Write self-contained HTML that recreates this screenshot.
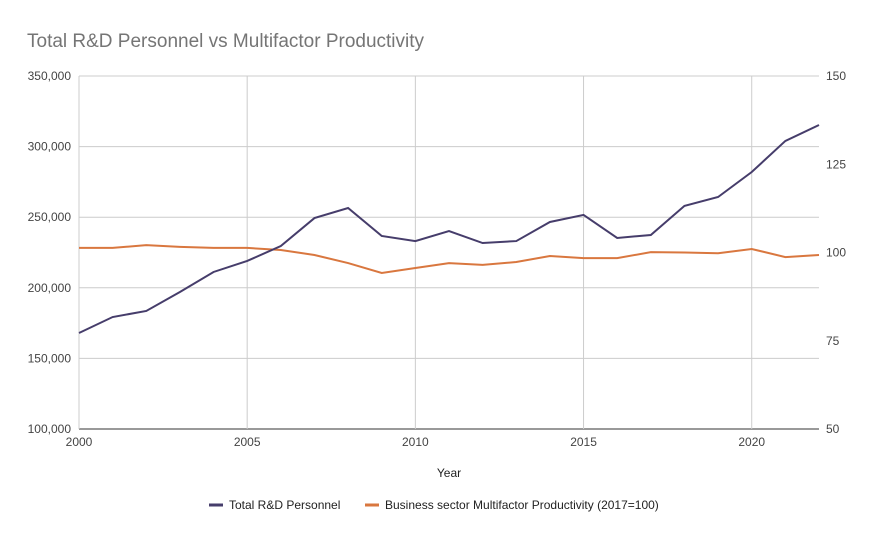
<!DOCTYPE html>
<html><head><meta charset="utf-8">
<style>
body{margin:0;background:#fff;font-family:"Liberation Sans",sans-serif;}
svg text{font-family:"Liberation Sans",sans-serif;}
</style></head>
<body>
<svg id="chart" width="873" height="540" xmlns="http://www.w3.org/2000/svg">
<rect width="873" height="540" fill="#fff"/>
<text x="27" y="47" font-size="19" fill="#757575">Total R&amp;D Personnel vs Multifactor Productivity</text>
<g id="grid"></g><g id="axes"></g><g id="series"></g>
<text x="449" y="477" font-size="12" fill="#222" text-anchor="middle">Year</text>
<g>
<line x1="209" y1="505" x2="223" y2="505" stroke="#463d6b" stroke-width="3"/>
<text x="229" y="509" font-size="12" fill="#222">Total R&amp;D Personnel</text>
<line x1="365" y1="505" x2="379" y2="505" stroke="#d9773f" stroke-width="3"/>
<text x="385" y="509" font-size="12" fill="#222">Business sector Multifactor Productivity (2017=100)</text>
</g>
</svg>
<script>
const years=[2000,2001,2002,2003,2004,2005,2006,2007,2008,2009,2010,2011,2012,2013,2014,2015,2016,2017,2018,2019,2020,2021,2022];
const personnel=[168000,179300,183600,197000,211200,219000,229600,249400,256500,236700,233100,240200,231700,233100,246600,251600,235300,237400,258000,264300,282000,304000,315300];
const productivity=[101.3,101.3,102.1,101.6,101.3,101.3,100.7,99.3,97.0,94.2,95.6,97.0,96.5,97.3,99.0,98.4,98.4,100.1,100,99.8,101,98.7,99.3];
const leftTicks=[100000,150000,200000,250000,300000,350000];
const rightTicks=[50,75,100,125,150];
const xTicks=[2000,2005,2010,2015,2020];
const X0=79,X1=819,YT=76,YB=429;
const x=v=>X0+(v-2000)/22*(X1-X0);
const yl=v=>YB-(v-100000)/250000*(YB-YT);
const yr=v=>YB-(v-50)/100*(YB-YT);
const NS="http://www.w3.org/2000/svg";
function mk(tag,attrs,parent,txt){const e=document.createElementNS(NS,tag);for(const k in attrs)e.setAttribute(k,attrs[k]);if(txt!==undefined)e.textContent=txt;document.getElementById(parent).appendChild(e);return e;}
leftTicks.forEach(t=>{
 const l=mk('line',{x1:X0,x2:X1,y1:yl(t),y2:yl(t),stroke:t===100000?'#333':'#ccc','stroke-width':1},'grid');
 
 
 const tx=mk('text',{x:71,y:yl(t)+4,'font-size':12,fill:'#444','text-anchor':'end'},'axes',t.toLocaleString('en-US'));
 
 
});
rightTicks.forEach(t=>{
 const tx=mk('text',{x:826,y:yr(t)+4,'font-size':12,fill:'#444'},'axes',t);
 
 
});
xTicks.forEach(t=>{
 const l=mk('line',{x1:x(t),x2:x(t),y1:YT,y2:YB,stroke:'#ccc','stroke-width':1},'grid');
 
 
 const tx=mk('text',{x:x(t),y:446,'font-size':12,fill:'#444','text-anchor':'middle'},'axes',t);
 
 
});
const p1=mk('polyline',{points:years.map((yv,i)=>x(yv)+','+yr(productivity[i])).join(' '),fill:'none',stroke:'#d9773f','stroke-width':2},'series');


const p2=mk('polyline',{points:years.map((yv,i)=>x(yv)+','+yl(personnel[i])).join(' '),fill:'none',stroke:'#463d6b','stroke-width':2},'series');


</script>
</body></html>
